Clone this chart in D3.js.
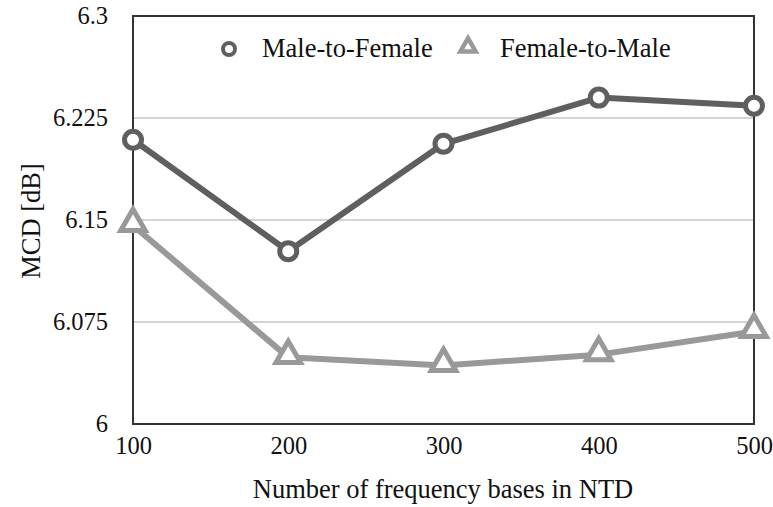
<!DOCTYPE html>
<html>
<head>
<meta charset="utf-8">
<script src="https://cdn.jsdelivr.net/npm/d3@7"></script>
<style>
  body { margin: 0; background: #fff; }
  text { font-family: "Liberation Serif", "Times New Roman", serif; fill: #111; }
</style>
</head>
<body>
<svg width="773" height="507"></svg>
<script>
var bases = [100, 200, 300, 400, 500];
var maleToFemale = [6.209, 6.127, 6.206, 6.240, 6.234];
var femaleToMale = [6.146, 6.049, 6.043, 6.051, 6.068];
var yTicks = [6, 6.075, 6.15, 6.225, 6.3];

(function () {
  var svg = d3.select("svg");
  var mLeft = 133, mRight = 754, mTop = 16, mBottom = 424;
  var fs = 26.5, tickFs = 24.5;

  var x = d3.scaleLinear().domain([100, 500]).range([mLeft, mRight]);
  var y = d3.scaleLinear().domain([6, 6.3]).range([mBottom, mTop]);

  // gridlines
  svg.append("g")
    .selectAll("line")
    .data(yTicks.slice(1, -1))
    .enter().append("line")
    .attr("x1", mLeft).attr("x2", mRight)
    .attr("y1", d => y(d)).attr("y2", d => y(d))
    .attr("stroke", "#c6c6c6")
    .attr("stroke-width", 1.5);

  // frame
  svg.append("rect")
    .attr("x", mLeft).attr("y", mTop)
    .attr("width", mRight - mLeft).attr("height", mBottom - mTop)
    .attr("fill", "none")
    .attr("stroke", "#333")
    .attr("stroke-width", 2);

  // axes (labels only)
  svg.append("g")
    .attr("transform", `translate(${mLeft},0)`)
    .call(d3.axisLeft(y).tickValues(yTicks).tickSize(0).tickPadding(25).tickFormat(d => String(d)));
  svg.append("g")
    .attr("transform", `translate(0,${mBottom})`)
    .call(d3.axisBottom(x).tickValues(bases).tickSize(0).tickPadding(13).tickFormat(d => String(d)));
  svg.selectAll(".domain").remove();
  svg.selectAll(".tick text")
    .attr("font-family", "Liberation Serif, Times New Roman, serif")
    .attr("font-size", tickFs)
    .attr("fill", "#111");

  svg.append("text")
    .attr("x", 443).attr("y", 498)
    .attr("text-anchor", "middle")
    .attr("font-size", fs)
    .text("Number of frequency bases in NTD");

  svg.append("text")
    .attr("transform", "rotate(-90)")
    .attr("x", -221).attr("y", 40)
    .attr("text-anchor", "middle")
    .attr("font-size", fs)
    .text("MCD [dB]");

  var line = d3.line().x(d => x(d[0])).y(d => y(d[1]));
  var series = [
    { name: "Male-to-Female", values: maleToFemale, color: "#5f5f5f", shape: "circle" },
    { name: "Female-to-Male", values: femaleToMale, color: "#999999", shape: "triangle" }
  ];

  var tri = d3.symbol().type(d3.symbolTriangle);

  series.forEach(s => {
    var pts = bases.map((b, i) => [b, s.values[i]]);
    svg.append("path")
      .datum(pts)
      .attr("d", line)
      .attr("fill", "none")
      .attr("stroke", s.color)
      .attr("stroke-width", 6)
      .attr("stroke-linejoin", "round");
    var m = svg.append("g").selectAll("path").data(pts).enter();
    if (s.shape === "circle") {
      m.append("circle")
        .attr("cx", d => x(d[0])).attr("cy", d => y(d[1]))
        .attr("r", 8.5)
        .attr("fill", "#fff")
        .attr("stroke", s.color)
        .attr("stroke-width", 5);
    } else {
      m.append("path")
        .attr("transform", d => `translate(${x(d[0])},${y(d[1]) - 2})`)
        .attr("d", tri.size(260)())
        .attr("fill", "#fff")
        .attr("stroke", s.color)
        .attr("stroke-width", 5)
        .attr("stroke-linejoin", "miter");
    }
  });

  // legend
  var lg = svg.append("g");
  lg.append("circle")
    .attr("cx", 229).attr("cy", 49).attr("r", 6)
    .attr("fill", "#fff").attr("stroke", "#5f5f5f").attr("stroke-width", 4);
  lg.append("text").attr("x", 262).attr("y", 57).attr("font-size", fs).text("Male-to-Female");
  lg.append("path")
    .attr("transform", "translate(468,47)")
    .attr("d", tri.size(100)())
    .attr("fill", "#fff").attr("stroke", "#999").attr("stroke-width", 4.5);
  lg.append("text").attr("x", 500).attr("y", 57).attr("font-size", fs).text("Female-to-Male");
})();
</script>
</body>
</html>
